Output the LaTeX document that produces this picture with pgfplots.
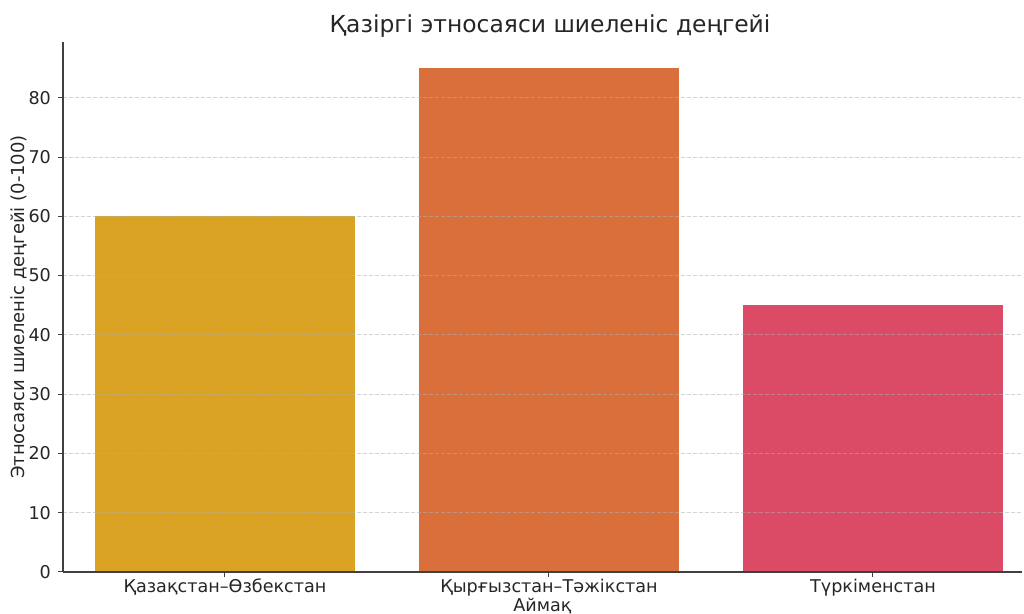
\documentclass[border=0pt]{standalone}
\usepackage{pgfplots}
\pgfplotsset{compat=1.18}
\usepackage{fontspec}
\setmainfont{DejaVu Sans}
\definecolor{c1}{HTML}{DBA323}
\definecolor{c2}{HTML}{D9703B}
\definecolor{c3}{HTML}{DC4B65}
\definecolor{txt}{HTML}{262626}
\definecolor{gridc}{HTML}{B0B0B0}
\begin{document}
\begin{tikzpicture}[font=\fontsize{8.8}{10}\selectfont]
\useasboundingbox (0,0) rectangle (512pt,307pt);
\begin{axis}[
  at={(31.5pt,21pt)}, anchor=south west,
  scale only axis, width=479.5pt, height=265pt,
  xmin=-0.5, xmax=2.46, ymin=0, ymax=89.4,
  axis x line*=bottom, axis y line*=left,
  axis line style={draw=black!75, line width=0.6pt},
  xtick={0,1,2},
  xticklabels={Қазақстан–Өзбекстан, Қырғызстан–Тәжікстан, Түркіменстан},
  ytick={0,10,20,30,40,50,60,70,80},
  tick style={draw=black!75, line width=0.5pt},
  major tick length=2.5pt,
  tick align=outside,
  ymajorgrids,
  grid style={gridc, opacity=0.55, dash pattern=on 1.8pt off 1.2pt, line width=0.4pt},
  axis on top,
  /pgf/number format/assume math mode=true,
  ticklabel style={text=txt, font=\fontsize{8.8}{10}\selectfont},
  xticklabel style={yshift=2.5pt},
  ylabel={Этносаяси шиеленіс деңгейі (0-100)},
  ylabel style={text=txt, font=\fontsize{9}{10}\selectfont},
  ylabel shift=-6pt,
  xlabel={Аймақ},
  xlabel style={text=txt, font=\fontsize{8.8}{10}\selectfont, yshift=6pt},
  ybar, bar width=0.8,
]
\addplot[draw=none, fill=c1, bar shift=0] coordinates {(0,60)};
\addplot[draw=none, fill=c2, bar shift=0] coordinates {(1,85)};
\addplot[draw=none, fill=c3, bar shift=0] coordinates {(2,45)};
\end{axis}
\node[text=txt, font=\fontsize{11.7}{13}\selectfont] at (275pt,294pt) {Қазіргі этносаяси шиеленіс деңгейі};
\end{tikzpicture}
\end{document}
